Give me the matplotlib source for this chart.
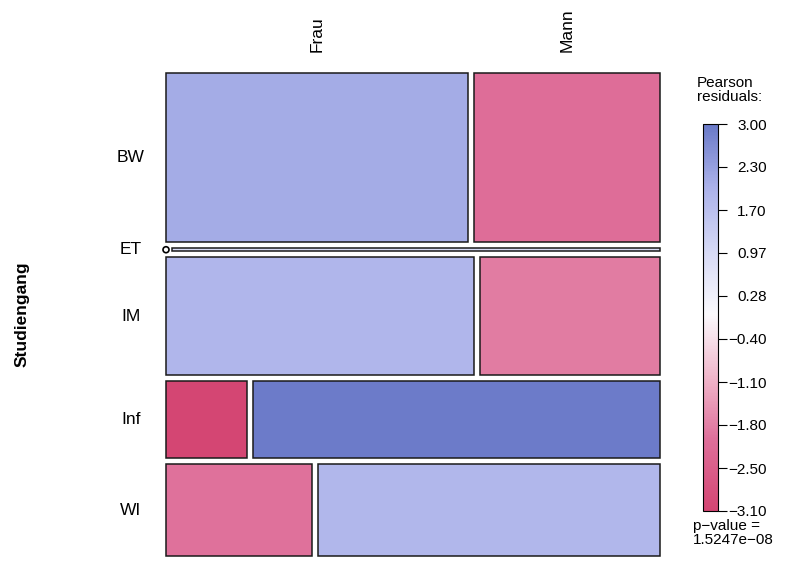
#Mosaic plot of Studiengang x Geschlecht, shaded by Pearson residuals
import matplotlib.pyplot as plt
import matplotlib as mpl
import numpy as np
from matplotlib.colors import LinearSegmentedColormap, Normalize
from matplotlib.patches import Rectangle, Circle

plt.rcParams['font.family'] = ['Liberation Sans', 'DejaVu Sans']

studiengang = ['BW', 'ET', 'IM', 'Inf', 'WI']
geschlecht = ['Frau', 'Mann']
frau = [65, 0, 46, 8, 17]
mann = [40, 2, 27, 40, 40]

#Legend text as printed in the picture
legend_labels = ['3.00', '2.30', '1.70', '0.97', '0.28',
                 '−0.40', '−1.10', '−1.80', '−2.50', '−3.10']
res_min, res_max = -3.10, 3.00
p_value_text = 'p−value =\n1.5247e−08'

#Pearson residuals
counts = np.array([frau, mann], dtype=float).T
n = counts.sum()
expected = counts.sum(1, keepdims=True) * counts.sum(0, keepdims=True) / n
resid = (counts - expected) / np.sqrt(expected)

#Colour scale (red-white-blue, hcl-like)
stops = [(-3.10, (212, 70, 115)), (-2.0, (222, 110, 153)), (-1.0, (240, 182, 202)),
         (0.0, (250, 249, 252)), (1.0, (214, 217, 245)), (2.0, (172, 178, 234)),
         (3.00, (106, 122, 200))]
cmap = LinearSegmentedColormap.from_list(
    'resid', [((v - res_min) / (res_max - res_min), np.array(c) / 255) for v, c in stops])
norm = Normalize(res_min, res_max)

W, H = 787, 561
fig = plt.figure(figsize=(W / 100, H / 100), dpi=100)

#Mosaic area in pixels
mx0, my0, mw, mh = 166, 73, 494, 483
gap = 6
mos = fig.add_axes([mx0 / W, 1 - (my0 + mh) / H, mw / W, mh / H])
mos.set_xlim(0, mw)
mos.set_ylim(mh, 0)
mos.axis('off')

row_tot = counts.sum(1)
content_h = mh - gap * (len(studiengang) - 1)
content_w = mw - gap * (len(geschlecht) - 1)

y = 0
for i, lab in enumerate(studiengang):
    h = row_tot[i] / n * content_h
    x = 0
    for j in range(len(geschlecht)):
        w = counts[i, j] / row_tot[i] * content_w
        if counts[i, j] == 0:
            mos.add_patch(Circle((x, y + h / 2), 3, facecolor='white',
                                 edgecolor='black', lw=1.2, clip_on=False, zorder=3))
        else:
            mos.add_patch(Rectangle((x, y), w, h, facecolor=cmap(norm(resid[i, j])),
                                    edgecolor='#1a1a1a', lw=1.1, clip_on=False))
        if i == 0:
            mos.text(x + w / 2, -21, geschlecht[j], rotation=90, ha='center',
                     va='bottom', fontsize=12.5)
        x += w + gap
    mos.text(-35, y + h / 2, lab, ha='center', va='center', fontsize=12.5)
    y += h + gap

fig.text(22 / W, 1 - 314 / H, 'Studiengang', rotation=90, ha='center',
         va='center', fontsize=12.5, fontweight='bold')

#Legend
cx0, cy0, cw, ch = 703, 124, 15, 387
cax = fig.add_axes([cx0 / W, 1 - (cy0 + ch) / H, cw / W, ch / H])
cb = fig.colorbar(mpl.cm.ScalarMappable(norm=norm, cmap=cmap), cax=cax)
cb.outline.set_linewidth(0.8)
tick_pos = np.linspace(res_max, res_min, len(legend_labels))
cb.set_ticks(tick_pos)
cb.set_ticklabels(legend_labels)
for t in cax.get_yticklabels():
    t.set_horizontalalignment('right')
cax.tick_params(axis='y', length=6.5, width=0.8, pad=28.5, labelsize=11)

fig.text(697 / W, 1 - 76 / H, 'Pearson\nresiduals:', ha='left', va='top',
         fontsize=11, linespacing=1.0)
fig.text(693 / W, 1 - 519 / H, p_value_text, ha='left', va='top',
         fontsize=11, linespacing=1.0)

fig.savefig('out.png', dpi=100)
